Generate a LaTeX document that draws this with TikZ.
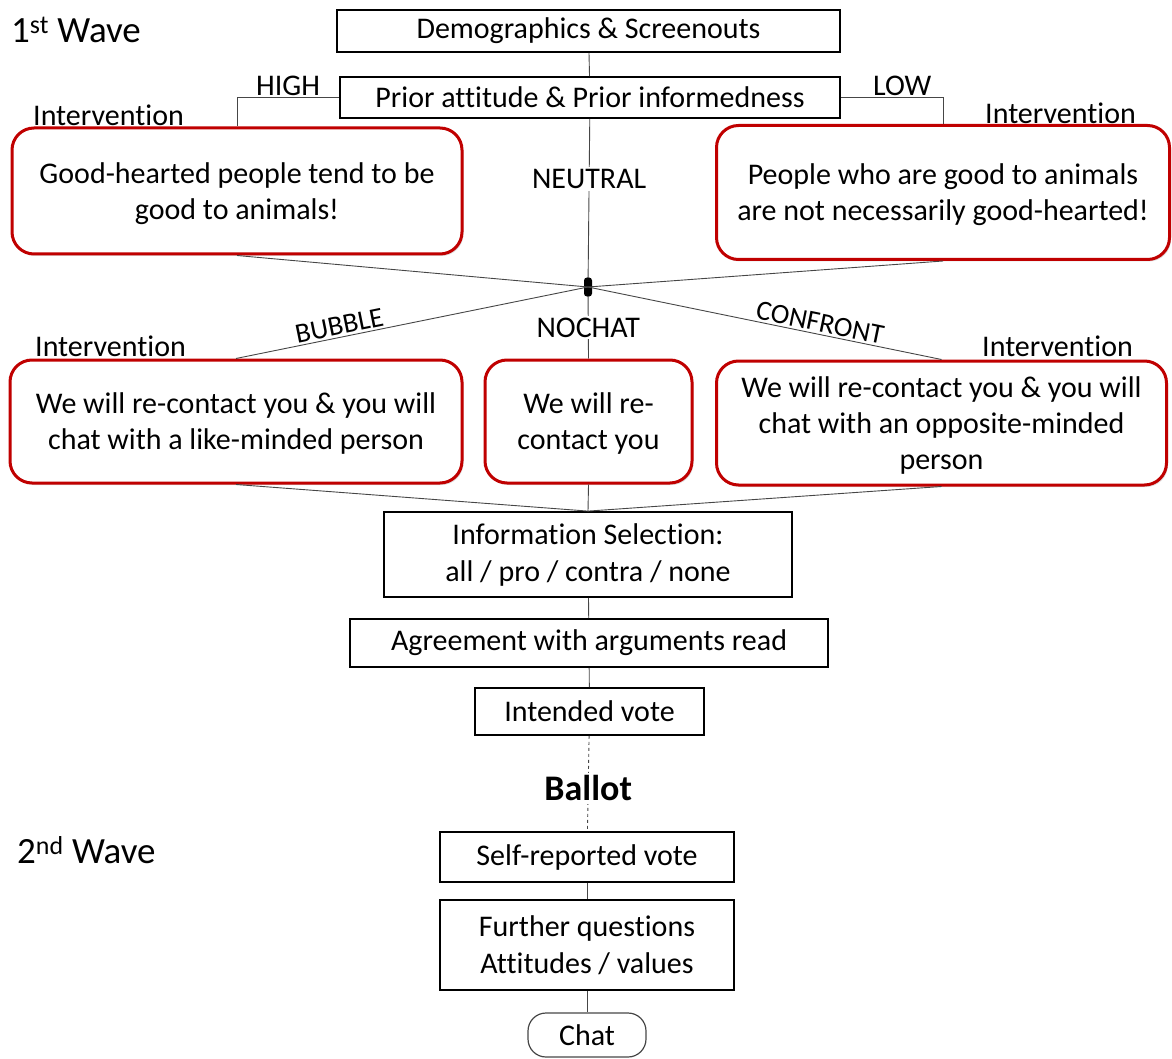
\documentclass[tikz,border=0pt]{standalone}
\usepackage{fontspec}
\setmainfont{Carlito}[Ligatures=NoCommon]
\definecolor{boxred}{RGB}{192, 0, 0}
\definecolor{linkgray}{RGB}{70, 70, 70}
\usepackage{tikz}
\usetikzlibrary{positioning, calc, shadows}

\begin{document}
\begin{tikzpicture}[x=1pt, y=-1pt,
  redbox/.style={draw=boxred, line width=3pt, rounded corners=22pt, fill=white, align=center,
    font=\fontsize{30}{36}\selectfont, inner sep=0pt,
    drop shadow={shadow xshift=1.5pt, shadow yshift=-2pt, opacity=0.25}},
  blackbox/.style={draw, line width=1.8pt, fill=white, align=center, inner sep=0pt,
    font=\fontsize{30}{37}\selectfont},
  link/.style={draw=linkgray, line width=0.9pt},
  lbl/.style={font=\fontsize{30}{34}\selectfont, inner sep=2pt}]
  \useasboundingbox (0, 0) rectangle (1172, 1059);

  % Waves
  \node[anchor=west, font=\fontsize{37}{40}\selectfont, inner sep=0pt] (wave1) at (11, 30) {1\textsuperscript{st} Wave};
  \node[anchor=west, font=\fontsize{37}{40}\selectfont, inner sep=0pt] (wave2) at (17, 850) {2\textsuperscript{nd} Wave};

  % Screening
  \node[blackbox, minimum width=503pt, minimum height=42pt] (demo) at (588.5, 31) {Demographics \& Screenouts};
  \node[blackbox, minimum width=500pt, minimum height=41pt] (prior) at (590, 97.5) {Prior attitude \& Prior informedness};
  \draw[link] (demo) -- (prior);

  % First intervention
  \node[lbl, anchor=west] (intA) at (31, 115) {Intervention};
  \node[lbl, anchor=west] (intB) at (983, 113) {Intervention};
  \node[redbox, minimum width=450pt, minimum height=126pt] (goodh) at (237, 191) {\strut Good-hearted people tend to be\\good to animals!};
  \node[redbox, minimum width=453pt, minimum height=134pt] (goodani) at (943, 192.5) {\strut People who are good to animals\\are not necessarily good-hearted!};
  \draw[link] (prior.west) -| node[lbl, above, pos=0.25, inner sep=1pt] {HIGH} (goodh.north);
  \draw[link] (prior.east) -| node[lbl, above, pos=0.3, inner sep=1pt] {LOW} (goodani.north);

  % Junction
  \node[fill=black, rounded corners=3pt, minimum width=8pt, minimum height=19pt, inner sep=0pt] (hub) at (588, 287) {};
  \draw[link] (prior) -- node[lbl, fill=white, pos=0.38] {NEUTRAL} (hub);
  \draw[link] (goodh.south) -- (hub.center);
  \draw[link] (goodani.south) -- (hub.center);

  % Second intervention
  \node[lbl, anchor=west] (intC) at (33, 346) {Intervention};
  \node[lbl, anchor=west] (intD) at (980, 346) {Intervention};
  \node[redbox, minimum width=452pt, minimum height=123pt] (like) at (236, 421.5) {\strut We will re-contact you \& you will\\chat with a like-minded person};
  \node[redbox, minimum width=207pt, minimum height=123pt] (recon) at (588.5, 421.5) {\strut We will re-\\contact you};
  \node[redbox, minimum width=450pt, minimum height=124pt] (oppo) at (941.5, 423) {\strut We will re-contact you \& you will\\chat with an opposite-minded\\person};
  \draw[link] (hub.center) -- node[lbl, sloped, above, pos=0.7, font=\fontsize{28}{30}\selectfont] {BUBBLE} (like.north);
  \draw[link] (hub.center) -- node[lbl, sloped, above, pos=0.65, font=\fontsize{28}{30}\selectfont] {CONFRONT} (oppo.north);
  \draw[link] (hub) -- node[lbl, fill=white, pos=0.5] {NOCHAT} (recon.north);

  % Reading and voting
  \node[blackbox, minimum width=408pt, minimum height=85pt] (info) at (588, 554.5) {Information Selection:\\all / pro / contra / none};
  \draw[link] (like.south) -- (info.north);
  \draw[link] (recon.south) -- (info.north);
  \draw[link] (oppo.south) -- (info.north);
  \node[blackbox, minimum width=478pt, minimum height=48pt] (agree) at (589, 643) {Agreement with arguments read};
  \node[blackbox, minimum width=229pt, minimum height=47pt] (intend) at (589.5, 711.5) {Intended vote};
  \draw[link] (info) -- (agree);
  \draw[link] (agree) -- (intend);

  % Ballot and second wave
  \node[blackbox, minimum width=294pt, minimum height=50pt] (selfrep) at (587, 857) {Self-reported vote};
  \draw[link, dashed] (intend) -- node[fill=white, font=\fontsize{36}{40}\selectfont\bfseries, inner sep=3pt, pos=0.55] {Ballot} (selfrep);
  \node[blackbox, minimum width=294pt, minimum height=90pt] (further) at (587, 945) {Further questions\\Attitudes / values};
  \draw[link] (selfrep) -- (further);
  \node[draw=linkgray, line width=1.2pt, rounded corners=18pt, minimum width=118pt, minimum height=44pt, inner sep=0pt,
    font=\fontsize{30}{34}\selectfont] (chat) at (587, 1035) {Chat};
  \draw[link] (further) -- (chat);
\end{tikzpicture}
\end{document}
